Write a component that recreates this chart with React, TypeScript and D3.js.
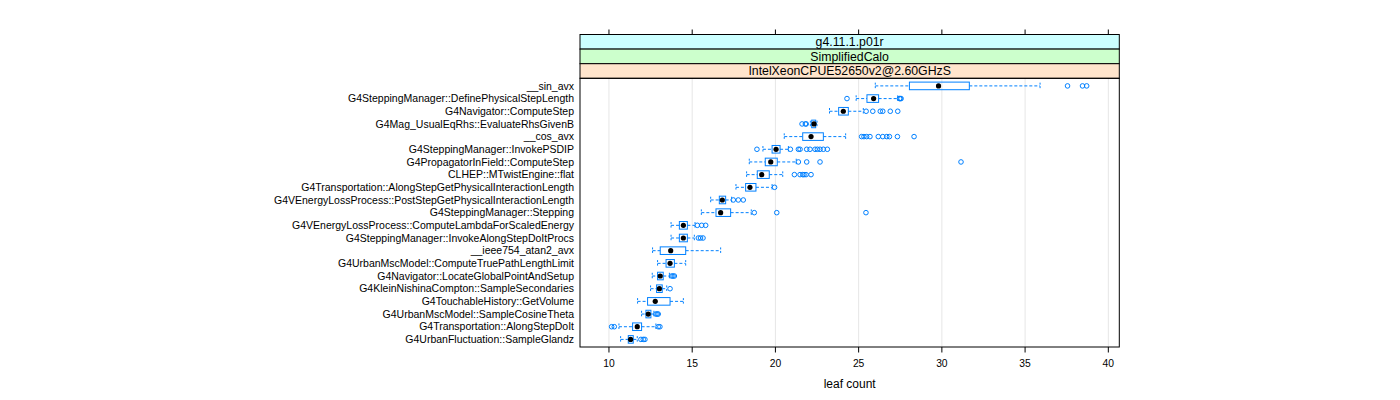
import React from 'react';
import * as d3 from 'd3';

const categories = [
  '__sin_avx',
  'G4SteppingManager::DefinePhysicalStepLength',
  'G4Navigator::ComputeStep',
  'G4Mag_UsualEqRhs::EvaluateRhsGivenB',
  '__cos_avx',
  'G4SteppingManager::InvokePSDIP',
  'G4PropagatorInField::ComputeStep',
  'CLHEP::MTwistEngine::flat',
  'G4Transportation::AlongStepGetPhysicalInteractionLength',
  'G4VEnergyLossProcess::PostStepGetPhysicalInteractionLength',
  'G4SteppingManager::Stepping',
  'G4VEnergyLossProcess::ComputeLambdaForScaledEnergy',
  'G4SteppingManager::InvokeAlongStepDoItProcs',
  '__ieee754_atan2_avx',
  'G4UrbanMscModel::ComputeTruePathLengthLimit',
  'G4Navigator::LocateGlobalPointAndSetup',
  'G4KleinNishinaCompton::SampleSecondaries',
  'G4TouchableHistory::GetVolume',
  'G4UrbanMscModel::SampleCosineTheta',
  'G4Transportation::AlongStepDoIt',
  'G4UrbanFluctuation::SampleGlandz',
];

const whiskerLow = [26.0, 24.85, 23.25, 22.1, 20.53, 19.25, 18.43, 18.27, 17.63, 16.11, 15.55, 13.73, 13.73, 12.62, 12.92, 12.6, 12.5, 11.72, 11.96, 10.6, 10.7];
const quartile1 = [28.05, 25.5, 23.8, 22.18, 21.64, 19.8, 19.39, 18.91, 18.21, 16.63, 16.43, 14.23, 14.23, 13.08, 13.43, 12.92, 12.86, 12.32, 12.22, 11.42, 11.16];
const medians = [29.8, 25.9, 24.08, 22.32, 22.14, 20.04, 19.72, 19.18, 18.47, 16.81, 16.71, 14.47, 14.47, 13.71, 13.67, 13.08, 13.03, 12.78, 12.36, 11.7, 11.3];
const quartile3 = [31.65, 26.2, 24.38, 22.42, 22.88, 20.28, 20.11, 19.63, 18.83, 17.01, 17.31, 14.71, 14.71, 14.61, 13.93, 13.26, 13.2, 13.67, 12.52, 11.96, 11.46];
const whiskerHigh = [35.9, 27.35, 25.28, 22.5, 24.22, 20.78, 21.25, 20.44, 19.8, 17.37, 18.55, 15.17, 15.13, 16.71, 14.61, 13.63, 13.47, 14.47, 12.7, 12.82, 11.7];
const outliers = [
  [37.55, 38.45, 38.7],
  [24.3, 27.45, 27.5, 27.55],
  [25.45, 25.85, 26.3, 26.45, 26.9, 27.35],
  [21.6, 21.8, 21.85],
  [25.18, 25.32, 25.48, 25.68, 26.18, 26.45, 26.69, 26.85, 27.33, 28.33],
  [18.89, 20.9, 21.38, 21.48, 21.88, 22.08, 22.38, 22.52, 22.68, 22.88, 23.12],
  [21.38, 21.88, 22.68, 31.15],
  [21.14, 21.48, 21.64, 21.72, 21.84, 22.14],
  [19.95],
  [17.47, 17.77, 18.07],
  [18.73, 20.08, 25.44],
  [15.31, 15.57, 15.81],
  [15.37, 15.5, 15.65],
  [],
  [],
  [13.77, 13.85, 13.93],
  [13.67],
  [],
  [12.82, 12.9, 12.96],
  [10.16, 10.32, 12.96, 13.06],
  [11.92, 12.06, 12.16],
];

const xTicks = [10, 15, 20, 25, 30, 35, 40];
const stripLabels = ['g4.11.1.p01r', 'SimplifiedCalo', 'IntelXeonCPUE52650v2@2.60GHzS'];
const stripColors = ['#ccffff', '#ccffcc', '#ffe5cc'];
const xLabel = 'leaf count';

const FONT = '"Liberation Sans", Arial, Helvetica, sans-serif';
const BLUE = '#0080ff';

export default function App() {
  const W = 1400;
  const H = 400;
  const panel = { left: 580, right: 1119.3, top: 78.3, bottom: 347 };
  const stripH = 14.6;
  const x = d3.scaleLinear().domain([8.26, 40.66]).range([panel.left, panel.right]);
  const n = categories.length;
  const y = d3.scaleLinear().domain([0.4, n + 0.6]).range([panel.bottom, panel.top]);
  const rowY = (i: number) => y(n - i);
  const boxH = 7.6;
  const capH = 6.5;
  const stripTop = panel.top - stripH * stripLabels.length;

  return (
    <svg
      width={W}
      height={H}
      style={{ position: 'absolute', left: 0, top: 0, background: '#fff' }}
      fontFamily={FONT}
    >
      <rect x={0} y={0} width={W} height={H} fill="#fff" />
      {/* grid */}
      {xTicks.map((t) => (
        <line key={'g' + t} x1={x(t)} x2={x(t)} y1={panel.top} y2={panel.bottom} stroke="#e6e6e6" strokeWidth={1} />
      ))}
      {/* strips */}
      {stripLabels.map((s, i) => {
        const y0 = stripTop + i * stripH;
        return (
          <g key={s}>
            <rect x={panel.left} y={y0} width={panel.right - panel.left} height={stripH} fill={stripColors[i]} stroke="#000" strokeWidth={1} />
            <text x={(panel.left + panel.right) / 2} y={y0 + stripH / 2 + 4.4} textAnchor="middle" fontSize={12.3} fill="#000">
              {s}
            </text>
          </g>
        );
      })}
      {/* top ticks */}
      {xTicks.map((t) => (
        <line key={'tt' + t} x1={x(t)} x2={x(t)} y1={stripTop - 5} y2={stripTop} stroke="#000" strokeWidth={1} />
      ))}
      {/* bottom ticks + labels */}
      {xTicks.map((t) => (
        <g key={'bt' + t}>
          <line x1={x(t)} x2={x(t)} y1={panel.bottom} y2={panel.bottom + 5.5} stroke="#000" strokeWidth={1} />
          <text x={x(t)} y={366.7} textAnchor="middle" fontSize={10.3} fill="#000">
            {t}
          </text>
        </g>
      ))}
      <text x={(panel.left + panel.right) / 2} y={387.7} textAnchor="middle" fontSize={12} fill="#000">
        {xLabel}
      </text>
      {/* y labels */}
      {categories.map((c, i) => (
        <text key={c} x={574} y={rowY(i) + 3.7} textAnchor="end" fontSize={10.5} fill="#000">
          {c}
        </text>
      ))}
      {/* boxes */}
      {categories.map((c, i) => {
        const cy = rowY(i);
        return (
          <g key={'b' + c}>
            <line x1={x(whiskerLow[i])} x2={x(quartile1[i])} y1={cy} y2={cy} stroke={BLUE} strokeDasharray="3,2" strokeWidth={1} />
            <line x1={x(quartile3[i])} x2={x(whiskerHigh[i])} y1={cy} y2={cy} stroke={BLUE} strokeDasharray="3,2" strokeWidth={1} />
            <line x1={x(whiskerLow[i])} x2={x(whiskerLow[i])} y1={cy - capH / 2} y2={cy + capH / 2} stroke={BLUE} strokeDasharray="2,1.5" strokeWidth={1} />
            <line x1={x(whiskerHigh[i])} x2={x(whiskerHigh[i])} y1={cy - capH / 2} y2={cy + capH / 2} stroke={BLUE} strokeDasharray="2,1.5" strokeWidth={1} />
            <rect x={x(quartile1[i])} y={cy - boxH / 2} width={x(quartile3[i]) - x(quartile1[i])} height={boxH} fill="none" stroke={BLUE} strokeWidth={1} />
            {outliers[i].map((o, j) => (
              <circle key={j} cx={x(o)} cy={cy} r={2.3} fill="none" stroke={BLUE} strokeWidth={1} />
            ))}
            <circle cx={x(medians[i])} cy={cy} r={2.6} fill="#000" />
          </g>
        );
      })}
      {/* panel border */}
      <rect x={panel.left} y={panel.top} width={panel.right - panel.left} height={panel.bottom - panel.top} fill="none" stroke="#000" strokeWidth={1} />
    </svg>
  );
}
